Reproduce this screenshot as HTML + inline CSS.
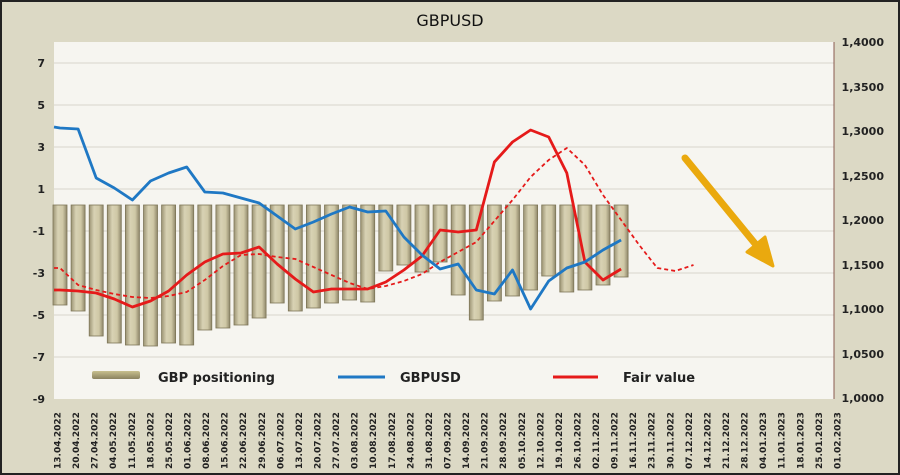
<!DOCTYPE html>
<html><head><meta charset="utf-8"><style>
body{margin:0;background:#fff}
svg{display:block}
text{font-family:"DejaVu Sans","Liberation Sans",sans-serif}
</style></head><body>
<svg width="900" height="475" viewBox="0 0 900 475" xmlns="http://www.w3.org/2000/svg">
<defs>
<linearGradient id="bg" x1="0" x2="1" y1="0" y2="0">
<stop offset="0" stop-color="#9c9474"/><stop offset="0.35" stop-color="#d8d2b4"/><stop offset="0.7" stop-color="#cfc8a6"/><stop offset="1" stop-color="#8f876a"/>
</linearGradient>
<linearGradient id="lg" x1="0" x2="0" y1="0" y2="1">
<stop offset="0" stop-color="#c8c08e"/><stop offset="1" stop-color="#8a8260"/>
</linearGradient>
</defs>
<rect x="0" y="0" width="900" height="475" fill="#dcd9c5"/>
<rect x="1" y="1" width="898" height="473" fill="none" stroke="#222" stroke-width="2"/>
<rect x="54" y="42" width="780" height="357" fill="#f6f5f0"/>
<g stroke="#e2e0d8" stroke-width="1.5">
<line x1="54" x2="834" y1="63" y2="63"/><line x1="54" x2="834" y1="105" y2="105"/><line x1="54" x2="834" y1="147" y2="147"/><line x1="54" x2="834" y1="189" y2="189"/><line x1="54" x2="834" y1="231" y2="231"/><line x1="54" x2="834" y1="273" y2="273"/><line x1="54" x2="834" y1="315" y2="315"/><line x1="54" x2="834" y1="357" y2="357"/>
</g>
<text x="450" y="26" font-size="16" text-anchor="middle" fill="#111">GBPUSD</text>
<g font-size="11" font-weight="bold" fill="#222" text-anchor="end">
<text x="45" y="67">7</text><text x="45" y="109">5</text><text x="45" y="151">3</text><text x="45" y="193">1</text><text x="45" y="235">-1</text><text x="45" y="277">-3</text><text x="45" y="319">-5</text><text x="45" y="361">-7</text><text x="45" y="403">-9</text>
</g>
<g font-size="11" font-weight="bold" fill="#222" text-anchor="end">
<text x="884" y="46">1,4000</text><text x="884" y="91">1,3500</text><text x="884" y="135">1,3000</text><text x="884" y="180">1,2500</text><text x="884" y="224">1,2000</text><text x="884" y="269">1,1500</text><text x="884" y="313">1,1000</text><text x="884" y="358">1,0500</text><text x="884" y="402">1,0000</text>
</g>
<line x1="834" y1="42" x2="834" y2="399" stroke="#8a5a50" stroke-width="1"/>
<g id="bars" fill="url(#bg)" stroke="#7d7658" stroke-width="0.8"></g>
<g id="lines"></g>
<g id="xl" font-size="9" font-weight="bold" fill="#222"></g>
<line x1="685" y1="158" x2="757" y2="246" stroke="#eaa90e" stroke-width="7" stroke-linecap="round"/>
<polygon points="773,266 747,252 765,237" fill="#eaa90e" stroke="#eaa90e" stroke-width="3" stroke-linejoin="round"/>
<rect x="92" y="371" width="48" height="8" fill="url(#lg)" rx="2"/>
<text x="158" y="382" font-size="13" font-weight="bold" fill="#222">GBP positioning</text>
<line x1="338" x2="385" y1="377" y2="377" stroke="#1f78c4" stroke-width="3"/>
<text x="400" y="382" font-size="13" font-weight="bold" fill="#222">GBPUSD</text>
<line x1="553" x2="598" y1="377" y2="377" stroke="#e51a1a" stroke-width="3"/>
<text x="623" y="382" font-size="13" font-weight="bold" fill="#222">Fair value</text>
</svg>
<script>
const ns="http://www.w3.org/2000/svg";
function el(t,a,p){const e=document.createElementNS(ns,t);for(const k in a)e.setAttribute(k,a[k]);p.appendChild(e);return e;}
const bars=[305,311,336,343,345,346,343,345,330,328,325,318,303,311,308,303,300,302,271,265,272,262,295,320,301,296,290,276,292,290,285,277];
const bg=document.getElementById('bars');
bars.forEach((b,i)=>{const cx=60+18.1*i;el('rect',{x:cx-7,y:205,width:14,height:b-205},bg);});
const lg=document.getElementById('lines');
const X=i=>60+18.1*i;
function pl(arr,attrs,x0){let pts=arr.map((y,i)=>X(i).toFixed(1)+','+y);if(x0)pts.unshift(x0);el('polyline',Object.assign({points:pts.join(' '),fill:'none','stroke-linejoin':'round'},attrs),lg);}
pl([268,285,290,294,297,298,296,292,280,266,255,254,257,259,267,275,283,289,286,281,274,262,252,242,221,200,177,160,148,165,195,220,245,268,271,265],{stroke:'#e51a1a','stroke-width':1.8,'stroke-dasharray':'4,3'},'54,268');
pl([290,291,293,299,307,301,291,275,262,254,253,247,264,279,292,289,289,289,282,270,256,230,232,230,162,142,130,137,173,262,280,269],{stroke:'#e51a1a','stroke-width':2.8},'54,290');
pl([128,129,178,188,200,181,173,167,192,193,198,203,216,229,222,214,207,212,211,237,255,269,264,290,294,270,309,281,268,262,250,240],{stroke:'#1f78c4','stroke-width':2.8},'54,127');
const d=["13.04.2022","20.04.2022","27.04.2022","04.05.2022","11.05.2022","18.05.2022","25.05.2022","01.06.2022","08.06.2022","15.06.2022","22.06.2022","29.06.2022","06.07.2022","13.07.2022","20.07.2022","27.07.2022","03.08.2022","10.08.2022","17.08.2022","24.08.2022","31.08.2022","07.09.2022","14.09.2022","21.09.2022","28.09.2022","05.10.2022","12.10.2022","19.10.2022","26.10.2022","02.11.2022","09.11.2022","16.11.2022","23.11.2022","30.11.2022","07.12.2022","14.12.2022","21.12.2022","28.12.2022","04.01.2023","11.01.2023","18.01.2023","25.01.2023","01.02.2023"];
const xl=document.getElementById('xl');
d.forEach((s,i)=>{const x=57+18.57*i+3.5;const t=el('text',{x:0,y:0,transform:`translate(${x.toFixed(1)},469) rotate(-90)`},xl);t.textContent=s;});
</script>
</body></html>
